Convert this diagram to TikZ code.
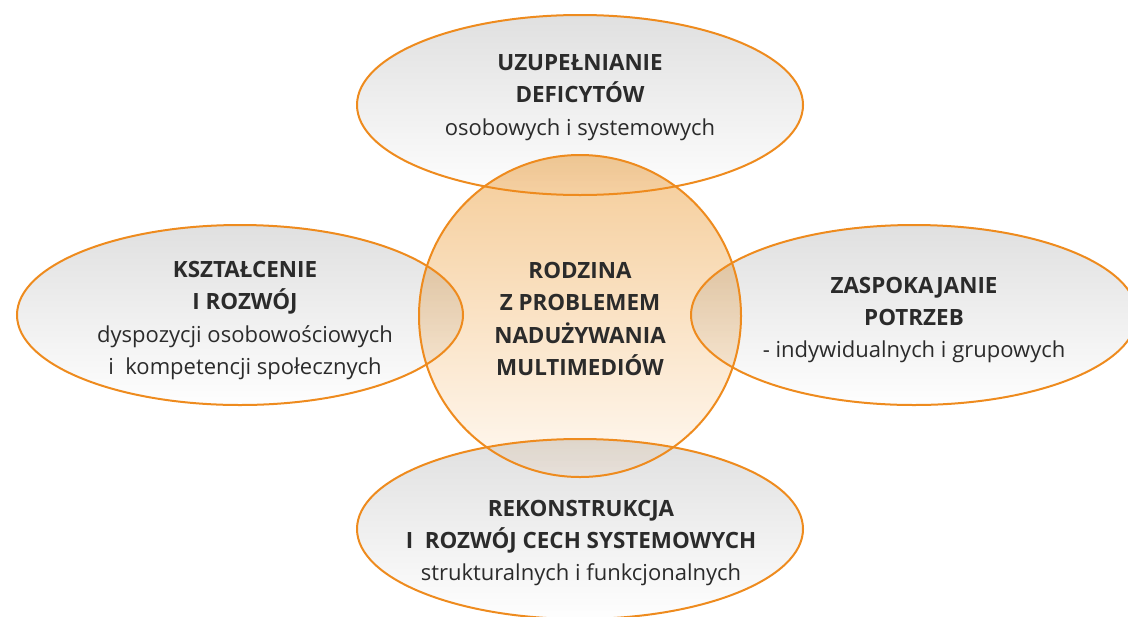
\documentclass[tikz,border=0pt]{standalone}
\usepackage{fontspec}
\setmainfont{Open Sans}
\definecolor{ringOrange}{HTML}{EE8B1E}
\definecolor{textGray}{HTML}{2B2B2B}
\definecolor{petalTop}{HTML}{E0E0E0}
\definecolor{petalBottom}{HTML}{FEFEFE}
\definecolor{coreTop}{HTML}{F5CC98}
\definecolor{coreBottom}{HTML}{FFF9F2}
\newcommand{\headFont}{\bfseries\fontsize{11.2}{16.2}\selectfont}
\newcommand{\restFont}{\mdseries\fontsize{11}{16.2}\selectfont}
\newcommand{\petalFill}[1]{%%
  %% The shaded inside of one ellipse.
  \shade[petalStyle] (#1) ellipse [x radius=\rx, y radius=\ry];
}
\newcommand{\petalRing}[1]{%%
  %% The orange outline of one ellipse.
  \draw[ringStyle] (#1) ellipse [x radius=\rx, y radius=\ry];
}

\begin{document}
\begin{tikzpicture}[%%
  x=0.5pt,y=-0.5pt,%%
  petalStyle/.style={top color=petalTop,bottom color=petalBottom},%%
  coreStyle/.style={top color=coreTop,bottom color=coreBottom},%%
  ringStyle/.style={draw=ringOrange,line width=1pt},%%
  textStyle/.style={align=center,text=textGray,inner sep=0pt,font=\headFont}%%
]
%%
%%
%% The size of the picture.
\useasboundingbox (0,0) rectangle (1128,616);
%%
%% Radii of the ellipses and of the circle.
\pgfmathsetmacro{\rx}{223}
\pgfmathsetmacro{\ry}{90}
\pgfmathsetmacro{\rc}{161}
\coordinate (north) at (580,105);
\coordinate (west) at (240,315);
\coordinate (east) at (914,315);
\coordinate (south) at (580,529);
\coordinate (core) at (580,316);
%%
%%
%% The four ellipses round the circle.
\foreach \p in {north,west,east,south}{\petalFill{\p}}
%%
%% The circle in the middle, mixed with the ellipses below it.
\begin{scope}[blend mode=multiply]
  \shade[coreStyle] (core) circle [radius=\rc];
\end{scope}
%%
%% All outlines on top.
\foreach \p in {north,west,east,south}{\petalRing{\p}}
\draw[ringStyle] (core) circle [radius=\rc];
%%
%%
%% The texts.
\node[textStyle] (northText) at (580,97.5)
  {UZUPEŁNIANIE\\DEFICYTÓW\\\restFont osobowych i systemowych};
\node[textStyle] (westText) at (245,320.5)
  {KSZTAŁCENIE\\I ROZWÓJ\\\restFont dyspozycji osobowościowych\\\restFont i~~kompetencji społecznych};
\node[textStyle] (eastText) at (914,320)
  {ZASPOKAJANIE\\POTRZEB\\\restFont - indywidualnych i grupowych};
\node[textStyle] (southText) at (581,543)
  {REKONSTRUKCJA\\I~~ROZWÓJ CECH SYSTEMOWYCH\\\restFont strukturalnych i funkcjonalnych};
\node[textStyle] (coreText) at (580,319)
  {RODZINA\\Z PROBLEMEM\\NADUŻYWANIA\\MULTIMEDIÓW};
\end{tikzpicture}
\end{document}
